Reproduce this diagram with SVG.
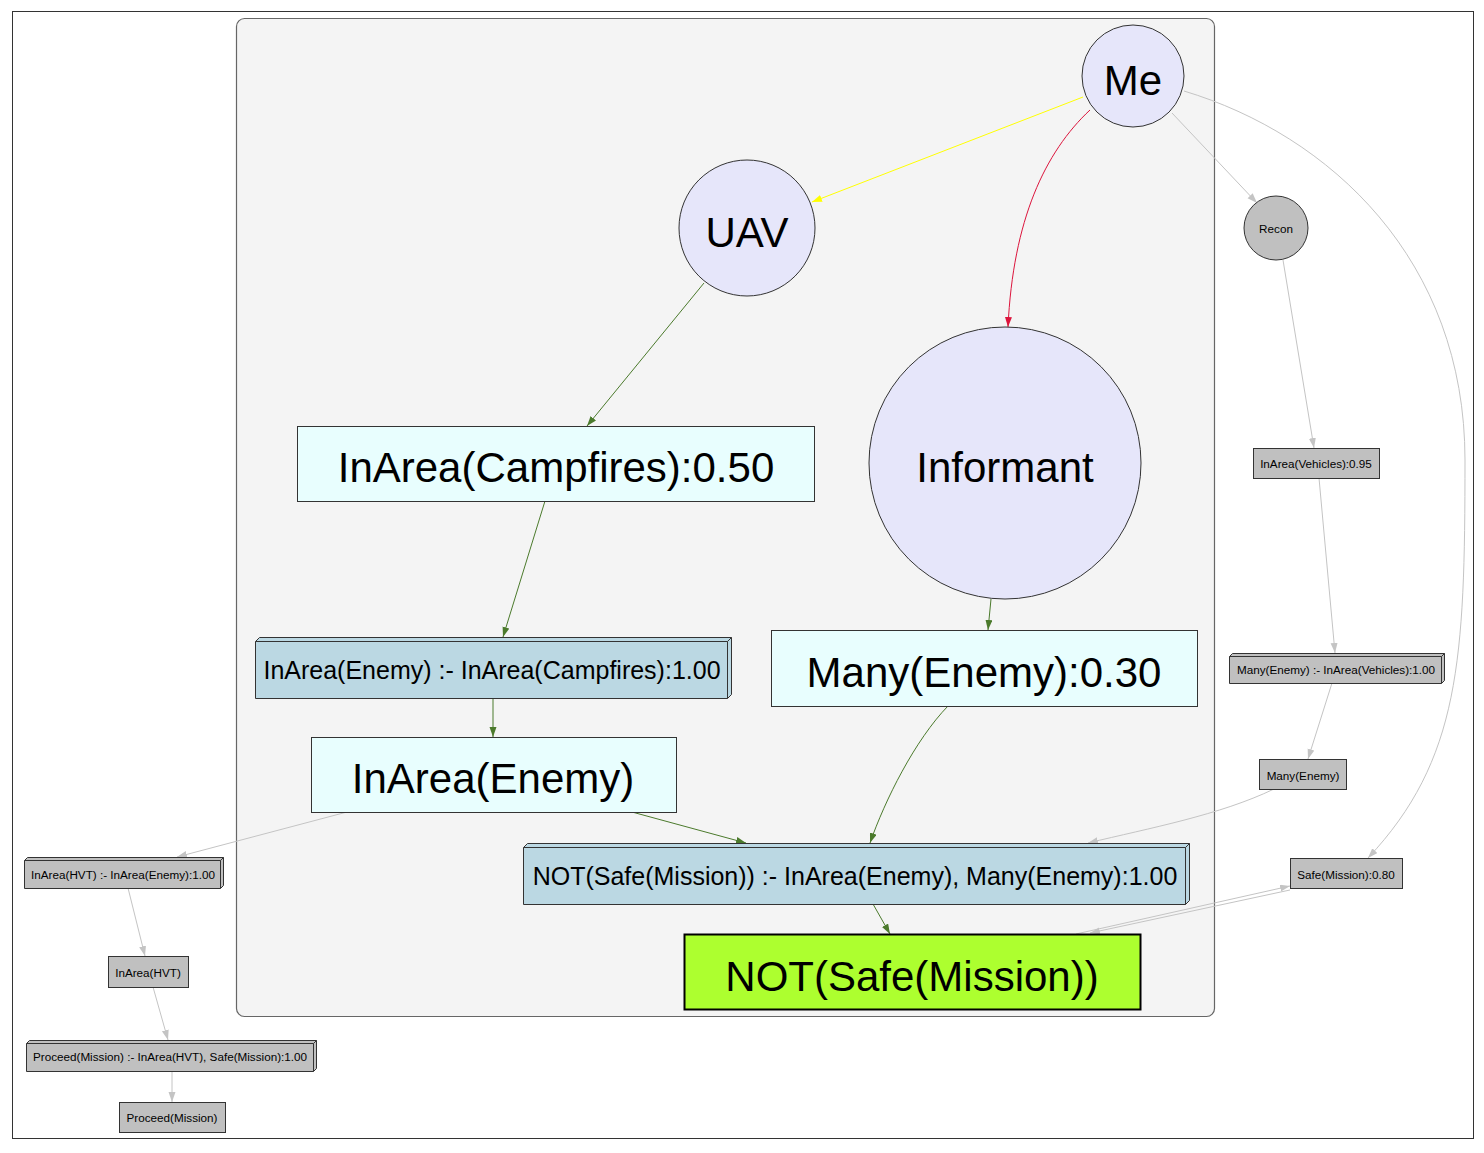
<svg xmlns="http://www.w3.org/2000/svg" width="1484" height="1153" viewBox="0 0 1484 1153">
<style>
text { font-family: "Liberation Sans", Arial, sans-serif; fill: #000; text-anchor: middle; }
.big { font-size: 42px; }
.mid { font-size: 25px; }
.sm { font-size: 11.7px; }
.lav { fill: #e6e6fa; stroke: #333; stroke-width: 1; }
.cyan { fill: #e8fefe; stroke: #333; stroke-width: 1; }
.blue { fill: #bbd8e3; stroke: #333; stroke-width: 1; }
.gray { fill: #c0c0c0; stroke: #333; stroke-width: 1; }
.e { fill: none; stroke-width: 1; }
.eg { stroke: #4b7a2c; }
.es { stroke: #c4c4c4; }
</style>
<defs>
<marker id="ag" markerUnits="userSpaceOnUse" markerWidth="10" markerHeight="8" refX="10" refY="3.5" orient="auto"><path d="M0,0 L10,3.5 L0,7 z" fill="#4b7a2c"/></marker>
<marker id="as" markerUnits="userSpaceOnUse" markerWidth="10" markerHeight="8" refX="10" refY="3.5" orient="auto"><path d="M0,0 L10,3.5 L0,7 z" fill="#c4c4c4"/></marker>
<marker id="ay" markerUnits="userSpaceOnUse" markerWidth="10" markerHeight="8" refX="10" refY="3.5" orient="auto"><path d="M0,0 L10,3.5 L0,7 z" fill="#ffff00"/></marker>
<marker id="ac" markerUnits="userSpaceOnUse" markerWidth="10" markerHeight="8" refX="10" refY="3.5" orient="auto"><path d="M0,0 L10,3.5 L0,7 z" fill="#dc143c"/></marker>
</defs>
<rect x="0" y="0" width="1484" height="1153" fill="#fff"/>
<rect x="12.5" y="11.5" width="1461" height="1127" fill="#fff" stroke="#333" stroke-width="1"/>
<g id="cluster">
<rect x="236.5" y="18.5" width="978" height="998" rx="8" fill="#f4f4f4" stroke="#666" stroke-width="1.2"/>
</g>
<g id="edges">
<path class="e" d="M1083,97 L812,202" stroke="#ffff00" marker-end="url(#ay)"/>
<path class="e" d="M1090,110 C1045,152 1013,220 1008,327" stroke="#dc143c" marker-end="url(#ac)"/>
<path class="e es" d="M1172,113 L1257,203" marker-end="url(#as)"/>
<path class="e es" d="M1184,91 C1330,135 1465,260 1465,460 C1465,660 1460,760 1368,858" marker-end="url(#as)"/>
<path class="e eg" d="M704,283 L587,426" marker-end="url(#ag)"/>
<path class="e eg" d="M545,501 L503,637" marker-end="url(#ag)"/>
<path class="e eg" d="M493,698 L493,737" marker-end="url(#ag)"/>
<path class="e eg" d="M991,599 L988,630" marker-end="url(#ag)"/>
<path class="e eg" d="M948,706 C915,740 885,800 870,843" marker-end="url(#ag)"/>
<path class="e eg" d="M632,812 L746,843" marker-end="url(#ag)"/>
<path class="e es" d="M347,812 L177,857" marker-end="url(#as)"/>
<path class="e eg" d="M873,904 L890,934" marker-end="url(#ag)"/>
<path class="e es" d="M1283,260 L1314,448" marker-end="url(#as)"/>
<path class="e es" d="M1319,478 L1335,653" marker-end="url(#as)"/>
<path class="e es" d="M1332,683 L1308,759" marker-end="url(#as)"/>
<path class="e es" d="M1274,789 C1220,815 1150,828 1088,843" marker-end="url(#as)"/>
<path class="e es" d="M1076,934 L1290,886" marker-end="url(#as)"/>
<path class="e es" d="M1290,890 L1090,933" marker-end="url(#as)"/>
<path class="e es" d="M128,888 L145,956" marker-end="url(#as)"/>
<path class="e es" d="M153,987 L168,1040" marker-end="url(#as)"/>
<path class="e es" d="M172,1071 L172,1102" marker-end="url(#as)"/>
</g>
<g id="node-me"><circle class="lav" cx="1133" cy="76" r="51"/><text class="big" x="1133" y="95">Me</text></g>
<g id="node-uav"><circle class="lav" cx="747" cy="228" r="68"/><text class="big" x="747" y="247">UAV</text></g>
<g id="node-informant"><circle class="lav" cx="1005" cy="463" r="136"/><text class="big" x="1005" y="482">Informant</text></g>
<g id="node-recon"><circle class="gray" cx="1276" cy="228" r="32"/><text class="sm" x="1276" y="233">Recon</text></g>
<g id="node-campfires"><rect class="cyan" x="297.5" y="426.5" width="517" height="75"/><text class="big" x="556" y="482">InArea(Campfires):0.50</text></g>
<g id="node-rule-enemy">
<path class="blue" d="M255.5,641.5 L259.5,637.5 L731.5,637.5 L731.5,694.5 L727.5,698.5 L255.5,698.5 Z"/>
<path fill="none" stroke="#333" d="M255.5,641.5 L727.5,641.5 L727.5,698.5 M727.5,641.5 L731.5,637.5"/>
<text class="mid" x="492" y="679">InArea(Enemy) :- InArea(Campfires):1.00</text></g>
<g id="node-many030"><rect class="cyan" x="771.5" y="630.5" width="426" height="76"/><text class="big" x="984" y="687">Many(Enemy):0.30</text></g>
<g id="node-inarea-enemy"><rect class="cyan" x="311.5" y="737.5" width="365" height="75"/><text class="big" x="493" y="793">InArea(Enemy)</text></g>
<g id="node-rule-notsafe">
<path class="blue" d="M523.5,847.5 L527.5,843.5 L1189.5,843.5 L1189.5,900.5 L1185.5,904.5 L523.5,904.5 Z"/>
<path fill="none" stroke="#333" d="M523.5,847.5 L1185.5,847.5 L1185.5,904.5 M1185.5,847.5 L1189.5,843.5"/>
<text class="mid" x="855" y="885">NOT(Safe(Mission)) :- InArea(Enemy), Many(Enemy):1.00</text></g>
<g id="node-notsafe"><rect x="684.5" y="934.5" width="456" height="75" fill="#adff2f" stroke="#000" stroke-width="2"/><text class="big" x="912" y="991">NOT(Safe(Mission))</text></g>
<g id="node-vehicles"><rect class="gray" x="1253.5" y="448.5" width="126" height="30"/><text class="sm" x="1316" y="468">InArea(Vehicles):0.95</text></g>
<g id="node-rule-many">
<path class="gray" d="M1229.5,656.5 L1232.5,653.5 L1444.5,653.5 L1444.5,680.5 L1441.5,683.5 L1229.5,683.5 Z"/>
<path fill="none" stroke="#333" d="M1229.5,656.5 L1441.5,656.5 L1441.5,683.5 M1441.5,656.5 L1444.5,653.5"/>
<text class="sm" x="1336" y="674">Many(Enemy) :- InArea(Vehicles):1.00</text></g>
<g id="node-many"><rect class="gray" x="1259.5" y="759.5" width="87" height="30"/><text class="sm" x="1303" y="780">Many(Enemy)</text></g>
<g id="node-safe080"><rect class="gray" x="1290.5" y="858.5" width="112" height="30"/><text class="sm" x="1346" y="879">Safe(Mission):0.80</text></g>
<g id="node-rule-hvt">
<path class="gray" d="M24.5,860.5 L27.5,857.5 L223.5,857.5 L223.5,885.5 L220.5,888.5 L24.5,888.5 Z"/>
<path fill="none" stroke="#333" d="M24.5,860.5 L220.5,860.5 L220.5,888.5 M220.5,860.5 L223.5,857.5"/>
<text class="sm" x="123" y="879">InArea(HVT) :- InArea(Enemy):1.00</text></g>
<g id="node-hvt"><rect class="gray" x="108.5" y="956.5" width="80" height="31"/><text class="sm" x="148" y="977">InArea(HVT)</text></g>
<g id="node-rule-proceed">
<path class="gray" d="M26.5,1043.5 L29.5,1040.5 L316.5,1040.5 L316.5,1068.5 L313.5,1071.5 L26.5,1071.5 Z"/>
<path fill="none" stroke="#333" d="M26.5,1043.5 L313.5,1043.5 L313.5,1071.5 M313.5,1043.5 L316.5,1040.5"/>
<text class="sm" x="170" y="1061">Proceed(Mission) :- InArea(HVT), Safe(Mission):1.00</text></g>
<g id="node-proceed"><rect class="gray" x="119.5" y="1102.5" width="106" height="30"/><text class="sm" x="172" y="1122">Proceed(Mission)</text></g>
</svg>
